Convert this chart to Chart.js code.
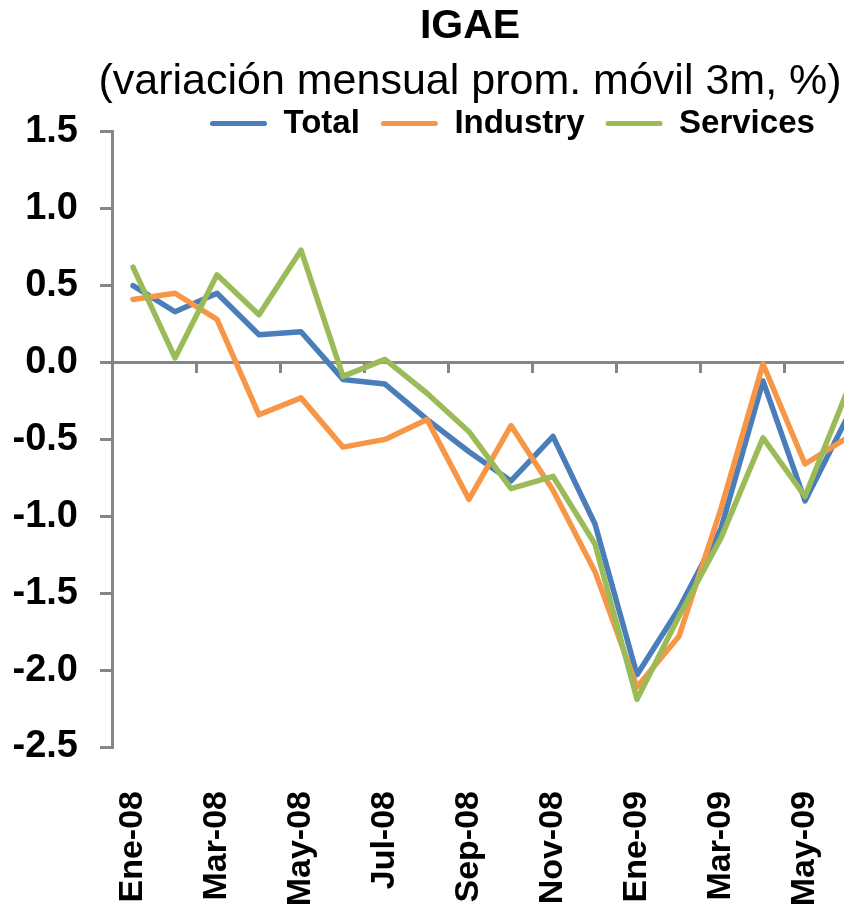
<!DOCTYPE html>
<html>
<head>
<meta charset="utf-8">
<script src="https://cdn.jsdelivr.net/npm/chart.js@4.4.1/dist/chart.umd.min.js"></script>
<style>
  html, body { margin: 0; padding: 0; background: #fff; overflow: hidden; }
  canvas { display: block; }
</style>
</head>
<body>
<canvas id="chart" width="940" height="911"></canvas>
<script>
// Datos: variación mensual, promedio móvil 3 meses (%)
const months = ['Ene-08', 'Feb-08', 'Mar-08', 'Abr-08', 'May-08', 'Jun-08', 'Jul-08', 'Ago-08', 'Sep-08',
                'Oct-08', 'Nov-08', 'Dic-08', 'Ene-09', 'Feb-09', 'Mar-09', 'Abr-09', 'May-09', 'Jun-09'];
const total    = [0.50, 0.33, 0.45, 0.18, 0.20, -0.11, -0.14, -0.37, -0.58, -0.77, -0.48, -1.05, -2.03, -1.60, -1.08, -0.12, -0.90, -0.36];
const industry = [0.41, 0.45, 0.28, -0.34, -0.23, -0.55, -0.50, -0.37, -0.89, -0.41, -0.83, -1.36, -2.11, -1.78, -0.95, -0.01, -0.66, -0.49];
const services = [0.62, 0.03, 0.57, 0.31, 0.73, -0.09, 0.02, -0.20, -0.45, -0.82, -0.74, -1.18, -2.19, -1.65, -1.14, -0.49, -0.87, -0.19];

const TITLE = 'IGAE';
const SUBTITLE = '(variación mensual prom. móvil 3m, %)';

const FONT = "'Liberation Sans', Arial, sans-serif";
const AXIS_GRAY = '#868686';
const NONE = 'rgba(0,0,0,0)';

// título centrado en 470 px; leyenda encima del área del gráfico, desplazada a la derecha
const placeBoxes = {
  id: 'placeBoxes',
  afterLayout(chart) {
    const titles = chart.boxes.filter(b => b.options && (b.options.text === TITLE || b.options.text === SUBTITLE));
    for (const box of titles) {
      box.left += 36;
      box.right += 36;
    }
    const lg = chart.legend;
    const w = lg.right - lg.left;
    lg.left = 210 - lg.options.labels.padding;
    lg.right = lg.left + w;
    lg.top = 86;
    lg.height = 60;
    lg.bottom = lg.top + 60;
  }
};

new Chart(document.getElementById('chart'), {
  type: 'line',
  data: {
    labels: months,
    datasets: [
      { label: 'Total',    data: total,    borderColor: '#4A7EBB', backgroundColor: '#4A7EBB', order: 2 },
      { label: 'Industry', data: industry, borderColor: '#F79646', backgroundColor: '#F79646', order: 1 },
      { label: 'Services', data: services, borderColor: '#9BBB59', backgroundColor: '#9BBB59', order: 0 }
    ]
  },
  options: {
    responsive: false,
    animation: false,
    layout: { padding: { left: 0, right: 72, top: 0, bottom: 0 } },
    elements: {
      line: { borderWidth: 5.5, tension: 0, borderCapStyle: 'round', borderJoinStyle: 'round', fill: false },
      point: { radius: 0, hoverRadius: 0 }
    },
    plugins: {
      tooltip: { enabled: false },
      title: {
        display: true, text: TITLE, color: '#000',
        font: { family: FONT, size: 41, weight: 'bold', lineHeight: 1.2 },
        padding: { top: 2, bottom: 0 }
      },
      subtitle: {
        display: true, text: SUBTITLE, color: '#000',
        font: { family: FONT, size: 43, weight: 'normal', lineHeight: 1.2 },
        padding: { top: 5, bottom: 0 }
      },
      legend: {
        display: true, position: 'top', align: 'start', maxHeight: 24,
        labels: {
          boxWidth: 57, boxHeight: 5, padding: 21, color: '#000',
          font: { family: FONT, size: 33, weight: 'bold' },
          generateLabels(chart) {
            return chart.data.datasets.map((ds, i) => ({
              text: ds.label, fillStyle: ds.borderColor, strokeStyle: ds.borderColor,
              lineWidth: 0, borderRadius: 2.5, datasetIndex: i, hidden: false, fontColor: '#000'
            }));
          }
        }
      }
    },
    scales: {
      x: {
        position: 'bottom',
        offset: true,
        afterFit: s => { s.height = 164; },
        grid: { display: false, drawTicks: false },
        border: { display: false },
        ticks: {
          autoSkip: false, minRotation: 90, maxRotation: 90, padding: 44, color: '#000',
          font: { family: FONT, size: 34, weight: 'bold' },
          callback(value, index) { return index % 2 === 0 ? this.getLabelForValue(value) : ''; }
        }
      },
      // eje de categorías cruzando en 0, solo para las marcas cada dos meses
      x2: {
        type: 'category',
        labels: months,
        offset: true,
        position: { y: 0 },
        afterFit: s => { s.height = 0; },
        grid: {
          offset: true, drawOnChartArea: false, drawTicks: true, tickLength: 10, lineWidth: 3,
          color: ctx => (ctx.index !== undefined && ctx.index % 2 === 0) ? AXIS_GRAY : NONE
        },
        border: { display: false },
        ticks: { display: false }
      },
      y: {
        min: -2.5, max: 1.5,
        afterFit: s => { s.width = 112; },
        ticks: {
          stepSize: 0.5, padding: 22, color: '#000',
          font: { family: FONT, size: 38, weight: 'bold' },
          callback: v => v.toFixed(1)
        },
        grid: {
          color: ctx => (ctx.tick && Math.abs(ctx.tick.value) < 1e-9) ? AXIS_GRAY : NONE,
          tickColor: AXIS_GRAY, tickLength: 12, lineWidth: 3, tickWidth: 3
        },
        border: { display: true, color: AXIS_GRAY, width: 3 }
      }
    }
  },
  plugins: [placeBoxes]
});
</script>
</body>
</html>
